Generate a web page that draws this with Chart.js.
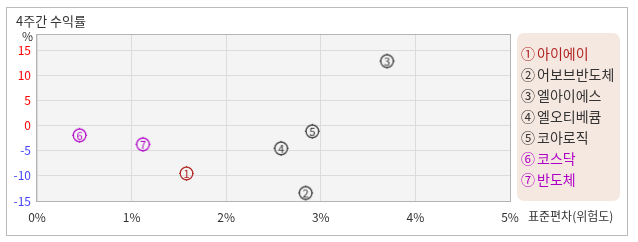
<!DOCTYPE html>
<html>
<head>
<meta charset="utf-8">
<script src="https://cdn.jsdelivr.net/npm/chart.js@4.4.1/dist/chart.umd.min.js"></script>
<style>
    body { margin: 0; background: #fff; }
    #frame { position: absolute; left: 6px; top: 7px; width: 620px; height: 227px; border: 1px solid #bbb; }
    #wrap { position: absolute; left: 0; top: 0; width: 638px; height: 242px; }
</style>
</head>
<body>
<div id="frame"></div>
<div id="wrap"><canvas id="riskChart" width="638" height="242"></canvas></div>
<script>
const names = ['아이에이', '어보브반도체', '엘아이에스', '엘오티베큠', '코아로직', '코스닥', '반도체'];
const marks = ['①', '②', '③', '④', '⑤', '⑥', '⑦'];
const riskValues = [1.58, 2.84, 3.70, 2.58, 2.91, 0.45, 1.12];      // 표준편차 (%)
const returnValues = [-9.5, -13.4, 12.9, -4.5, -1.1, -1.9, -3.7];   // 4주간 수익률 (%)
const colors = ['#b22222', '#333333', '#333333', '#333333', '#333333', '#b000c8', '#b000c8'];
const xTicks = [0, 1, 2, 3, 4, 5];
const yTicks = [-15, -10, -5, 0, 5, 10, 15];

const FONT = '"Noto Sans CJK KR", "DejaVu Sans", sans-serif';

function makeMarker(num, color) {
    const c = document.createElement('canvas');
    c.width = 19;
    c.height = 19;
    const g = c.getContext('2d');
    g.strokeStyle = color;
    g.lineWidth = 1.2;
    g.beginPath();
    g.arc(9.5, 9.5, 6.3, 0, Math.PI * 2);
    g.stroke();
    g.lineWidth = 1;
    g.beginPath();
    g.moveTo(9.5, 2); g.lineTo(9.5, 3.3);
    g.moveTo(9.5, 15.7); g.lineTo(9.5, 17);
    g.moveTo(2, 9.5); g.lineTo(3.3, 9.5);
    g.moveTo(15.7, 9.5); g.lineTo(17, 9.5);
    g.stroke();
    g.fillStyle = color;
    g.font = '11px ' + FONT;
    g.textAlign = 'center';
    g.textBaseline = 'middle';
    g.fillText(String(num), 9.5, 10);
    return c;
}

const decor = {
    id: 'decor',
    beforeDraw(chart) {
        const { ctx, chartArea: a } = chart;
        ctx.save();
        ctx.fillStyle = '#f4f4f4';
        ctx.fillRect(a.left, a.top, a.right - a.left, a.bottom - a.top);
        ctx.restore();
    },
    afterDraw(chart) {
        const { ctx, chartArea: a } = chart;
        ctx.save();
        // plot frame
        ctx.strokeStyle = '#b4b4b4';
        ctx.lineWidth = 1;
        ctx.strokeRect(a.left - 0.5, a.top + 0.5, a.right - a.left + 1, a.bottom - a.top);

        ctx.font = '13px ' + FONT;
        ctx.fillStyle = '#333';
        ctx.textBaseline = 'middle';
        ctx.textAlign = 'left';
        ctx.fillText('4주간 수익률', 16, 21);
        ctx.font = '12px ' + FONT;
        ctx.fillText('%', 22, 36);
        ctx.fillText('표준편차(위험도)', a.right + 18, 216);

        // legend box
        const bx = a.right + 7, by = a.top - 1, bw = 103, bh = a.bottom - a.top + 1;
        ctx.fillStyle = '#f5e8e0';
        ctx.beginPath();
        ctx.roundRect(bx, by, bw, bh, 7);
        ctx.fill();
        ctx.font = '14px ' + FONT;
        const step = 21;
        const y0 = by + bh / 2 - step * (names.length - 1) / 2;
        names.forEach((n, i) => {
            ctx.fillStyle = colors[i];
            ctx.fillText(marks[i], bx + 4, y0 + i * step);
            ctx.fillText(n, bx + 20, y0 + i * step);
        });
        ctx.restore();
    }
};

document.addEventListener('DOMContentLoaded', function() {
    const ctx = document.getElementById('riskChart');
    new Chart(ctx, {
        type: 'scatter',
        data: {
            datasets: [{
                data: riskValues.map((x, i) => ({ x: x, y: returnValues[i] })),
                pointStyle: riskValues.map((x, i) => makeMarker(i + 1, colors[i])),
                pointRadius: 9,
                pointHoverRadius: 9
            }]
        },
        options: {
            responsive: false,
            animation: false,
            events: [],
            layout: { padding: { top: 34, right: 128, left: 0, bottom: 0 } },
            plugins: { legend: { display: false }, tooltip: { enabled: false } },
            scales: {
                x: {
                    type: 'linear',
                    min: 0,
                    max: 5,
                    afterBuildTicks: s => { s.ticks = xTicks.map(v => ({ value: v })); },
                    afterFit: s => { s.height = 41; },
                    grid: { color: '#dcdcdc', drawTicks: false },
                    border: { display: false },
                    ticks: {
                        padding: 9,
                        color: '#333',
                        font: { family: FONT, size: 12 },
                        maxRotation: 0,
                        callback: v => v + '%'
                    }
                },
                y: {
                    type: 'linear',
                    min: -15,
                    max: 18.3,
                    afterBuildTicks: s => { s.ticks = yTicks.map(v => ({ value: v })); },
                    afterFit: s => { s.width = 37; },
                    grid: { color: '#dcdcdc', drawTicks: false },
                    border: { display: false },
                    ticks: {
                        padding: 6,
                        font: { family: FONT, size: 12 },
                        color: c => (c.tick && c.tick.value < 0) ? '#4444ff' : '#ff0000'
                    }
                }
            }
        },
        plugins: [decor]
    });
});
</script>
</body>
</html>
